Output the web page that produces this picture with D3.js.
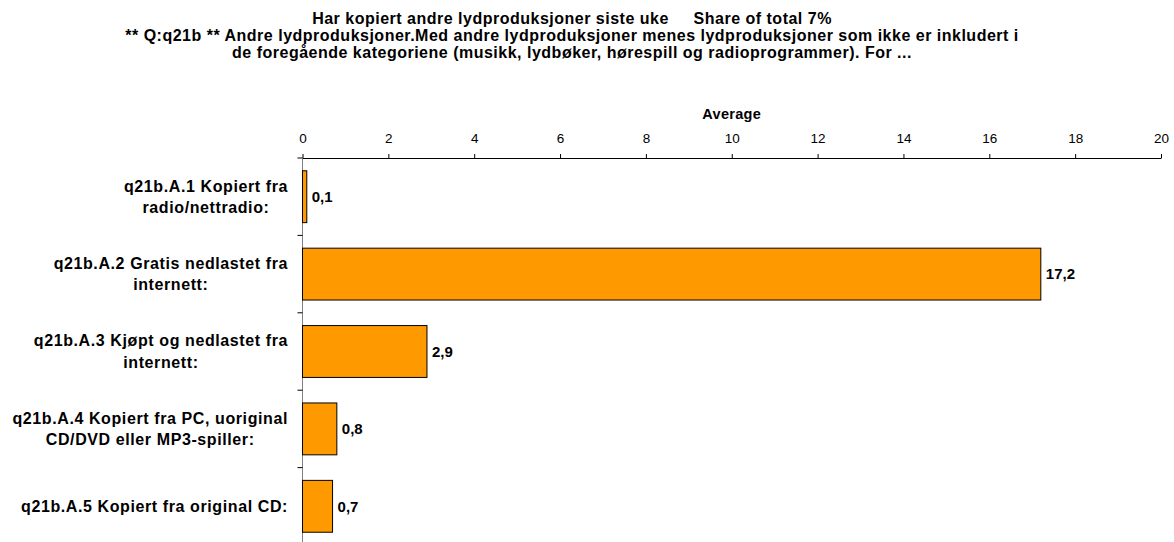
<!DOCTYPE html>
<html><head><meta charset="utf-8">
<script src="https://cdn.jsdelivr.net/npm/d3@7"></script>
<style>body{margin:0;background:#fff}text{font-family:"Liberation Sans",Arial,sans-serif}</style>
</head><body>
<svg id="c" width="1174" height="542"></svg>
<script>
const titleLines = [
  "Har kopiert andre lydproduksjoner siste uke     Share of total 7%",
  "** Q:q21b ** Andre lydproduksjoner.Med andre lydproduksjoner menes lydproduksjoner som ikke er inkludert i",
  "de foregående kategoriene (musikk, lydbøker, hørespill og radioprogrammer). For ..."
];
const categories = [
  ["q21b.A.1 Kopiert fra", "radio/nettradio:"],
  ["q21b.A.2 Gratis nedlastet fra", "internett:"],
  ["q21b.A.3 Kjøpt og nedlastet fra", "internett:"],
  ["q21b.A.4 Kopiert fra PC, uoriginal", "CD/DVD eller MP3-spiller:"],
  ["q21b.A.5 Kopiert fra original CD:"]
];
const values = [0.1, 17.2, 2.9, 0.8, 0.7];
const valueLabels = ["0,1", "17,2", "2,9", "0,8", "0,7"];
const tickValues = [0, 2, 4, 6, 8, 10, 12, 14, 16, 18, 20];
const axisTitle = "Average";

const svg = d3.select("#c");
const x = d3.scaleLinear().domain([0, 20]).range([302.5, 1161]);
const y = d3.scaleBand().domain(d3.range(categories.length)).range([158, 545]).paddingInner(0.33).paddingOuter(0.165);
const step = y.step();

// title
svg.append("g").selectAll("text").data(titleLines).join("text")
  .attr("x", 572).attr("y", (d, i) => 23.5 + i * 17)
  .attr("text-anchor", "middle").attr("font-size", 16).attr("font-weight", "bold")
  .attr("letter-spacing", 0.5)
  .style("white-space", "pre").text(d => d);

// axis title
svg.append("text").attr("x", (x(0) + x(20)) / 2).attr("y", 119)
  .attr("text-anchor", "middle").attr("font-size", 14.5).attr("font-weight", "bold")
  .attr("letter-spacing", 0.3).text(axisTitle);

// top axis
const ax = svg.append("g").attr("transform", "translate(0,158)")
  .call(d3.axisTop(x).tickValues(tickValues).tickSize(4).tickSizeOuter(0).tickFormat(d => d));
ax.select(".domain").attr("stroke", "#000");
ax.selectAll(".tick line").attr("stroke", "#000");
ax.selectAll(".tick text").attr("font-size", 13.5).attr("font-family", "Liberation Sans, Arial, sans-serif")
  .attr("y", -15).attr("dy", 0).attr("fill", "#000");

// left axis line + ticks at band boundaries
svg.append("line").attr("x1", x(0)).attr("x2", x(0)).attr("y1", 158).attr("y2", 545).attr("stroke", "#808080");
svg.append("g").selectAll("line").data(d3.range(categories.length + 1)).join("line")
  .attr("x1", x(0) - 5).attr("x2", x(0)).attr("y1", i => 158 + i * step).attr("y2", i => 158 + i * step)
  .attr("stroke", "#000");

// bars
svg.append("g").selectAll("rect").data(values).join("rect")
  .attr("x", x(0)).attr("y", (d, i) => y(i)).attr("width", d => x(d) - x(0)).attr("height", y.bandwidth())
  .attr("fill", "#FF9900").attr("stroke", "#000").attr("stroke-width", 1);

// value labels
svg.append("g").selectAll("text").data(values).join("text")
  .attr("x", d => x(d) + 5).attr("y", (d, i) => y(i) + y.bandwidth() / 2).attr("dy", "0.35em")
  .attr("font-size", 15).attr("font-weight", "bold").text((d, i) => valueLabels[i]);

// category labels
const lg = svg.append("g");
categories.forEach((lines, i) => {
  const cy = y(i) + y.bandwidth() / 2;
  const lh = 21.5;
  const g = lg.append("g");
  const ts = g.selectAll("text").data(lines).join("text")
    .attr("y", (d, j) => cy + (j - (lines.length - 1) / 2) * lh).attr("dy", "0.35em")
    .attr("font-size", 16).attr("font-weight", "bold").attr("letter-spacing", 0.6)
    .attr("text-anchor", "middle").text(d => d);
  let w = 0; ts.each(function() { w = Math.max(w, this.getComputedTextLength()); });
  ts.attr("x", 288 - w / 2);
});
</script>
</body></html>
